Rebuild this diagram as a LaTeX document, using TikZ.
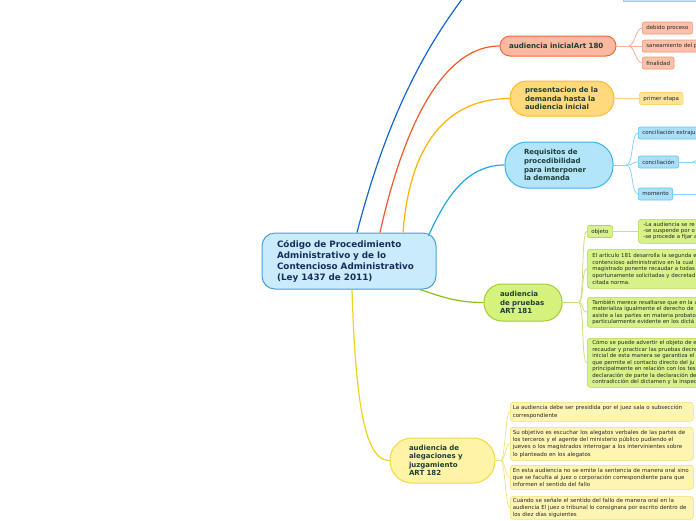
\documentclass[tikz,border=0pt]{standalone}
\usepackage{fontspec}
\setmainfont{DejaVu Sans}
\usetikzlibrary{positioning}
\definecolor{hubfill}{HTML}{C9EBFB}
\definecolor{hubline}{HTML}{4A9FD8}
\definecolor{hubtext}{HTML}{1A2C5C}
\definecolor{topictext}{HTML}{1E3F35}
\definecolor{leaftext}{HTML}{262626}
\definecolor{bluebr}{HTML}{1565D0}
\definecolor{topfill}{HTML}{C8E0F8}
\definecolor{topline}{HTML}{A3C8F2}
\definecolor{redbr}{HTML}{F2592A}
\definecolor{redfill}{HTML}{FBB9A1}
\definecolor{redline}{HTML}{F26A3C}
\definecolor{redleaf}{HTML}{FBC1AB}
\definecolor{redleafline}{HTML}{F6926E}
\definecolor{redtwig}{HTML}{F7B29A}
\definecolor{orabr}{HTML}{FFB100}
\definecolor{orafill}{HTML}{FFD97C}
\definecolor{oraline}{HTML}{FFBC2B}
\definecolor{oraleaf}{HTML}{FFE39A}
\definecolor{oraleafline}{HTML}{FFD466}
\definecolor{oratwig}{HTML}{FFD27A}
\definecolor{cyanbr}{HTML}{1CA9E6}
\definecolor{cyanfill}{HTML}{B2E4FA}
\definecolor{cyanline}{HTML}{3AB3EC}
\definecolor{cyanleaf}{HTML}{A9E0F8}
\definecolor{cyanleafline}{HTML}{5EC4F1}
\definecolor{cyantwig}{HTML}{8CD4F4}
\definecolor{greenbr}{HTML}{8CBD1F}
\definecolor{greenfill}{HTML}{D5F27C}
\definecolor{greenline}{HTML}{A2CD34}
\definecolor{greenleaf}{HTML}{D8F28A}
\definecolor{greenleafline}{HTML}{B4D94F}
\definecolor{greentwig}{HTML}{C6E27C}
\definecolor{yelbr}{HTML}{EED31C}
\definecolor{yelfill}{HTML}{FFF4A6}
\definecolor{yelline}{HTML}{F2D84A}
\definecolor{yelleaf}{HTML}{FFF5B3}
\definecolor{yelleafline}{HTML}{F3DE73}
\definecolor{yeltwig}{HTML}{F3E287}
\begin{document}
\begin{tikzpicture}[x=1pt,y=-1pt,
  hub/.style={draw=hubline,fill=hubfill,line width=1pt,rounded corners=13pt,text=hubtext,
    font=\fontsize{8.8}{11}\selectfont\bfseries,align=left,inner xsep=15pt,inner ysep=0pt,
    text width=144pt,minimum height=56pt},
  topic/.style={line width=1pt,text=topictext,align=left,inner ysep=0pt,
    font=\fontsize{7}{8.6}\selectfont\bfseries},
  leaf/.style={line width=0.6pt,rounded corners=2pt,text=leaftext,font=\fontsize{5.5}{7}\selectfont,
    inner xsep=4pt,inner ysep=0pt,minimum height=12pt,anchor=west},
  note/.style={line width=0.6pt,rounded corners=3pt,text=leaftext,align=left,anchor=north west,
    inner ysep=0pt},
  branch/.style={line width=1.2pt},
  twig/.style={line width=0.8pt}]
\useasboundingbox (0,0) rectangle (696,520);
\clip (0,0) rectangle (696,520);
\node[hub] (hub) at (349,261) {Código de Procedimiento\\Administrativo y de lo\\Contencioso Administrativo\\(Ley 1437 de 2011)};
\node[draw=topline,fill=topfill,line width=1pt,anchor=south west,minimum width=76pt,minimum height=20pt,inner sep=0pt] (upper) at (623,1.5) {};
\coordinate (upbranch) at (495,-40);
\node[topic,draw=redline,fill=redfill,rounded corners=10pt,text width=98pt,inner xsep=9pt,minimum height=20pt,font=\fontsize{7.1}{8.6}\selectfont\bfseries] (inicial) at (558,46) {audiencia inicialArt 180};
\node[topic,draw=oraline,fill=orafill,rounded corners=17pt,text width=74pt,inner xsep=15pt,minimum height=35pt] (demanda) at (562,98.5) {presentacion de la\\demanda hasta la\\audiencia inicial};
\node[topic,draw=cyanline,fill=cyanfill,rounded corners=22pt,text width=70pt,inner xsep=19pt,minimum height=46pt,font=\fontsize{7}{8.8}\selectfont\bfseries] (requisitos) at (559,165) {Requisitos de\\procedibilidad\\para interponer\\la demanda};
\node[topic,draw=greenline,fill=greenfill,rounded corners=18pt,text width=46pt,inner xsep=16pt,minimum height=37pt,font=\fontsize{7}{8.3}\selectfont\bfseries] (pruebas) at (523,302.5) {audiencia\\de pruebas\\ART 181};
\node[topic,draw=yelline,fill=yelfill,rounded corners=22pt,text width=67pt,inner xsep=19pt,minimum height=45pt,font=\fontsize{7}{8.4}\selectfont\bfseries] (alegaciones) at (442.5,460.5) {audiencia de\\alegaciones y\\juzgamiento\\ART 182};

\draw[branch,bluebr] ([xshift=8pt]hub.north) .. controls (385,125) and (425,35) .. (upbranch);
\draw[branch,redbr] ([xshift=31pt]hub.north) .. controls (405,120) and (445,46) .. (inicial.west);
\draw[branch,orabr] ([xshift=54pt]hub.north) .. controls (410,140) and (450,98.5) .. (demanda.west);
\draw[branch,cyanbr] ([xshift=-8pt,yshift=-3pt]hub.north east) .. controls (445,200) and (465,165) .. (requisitos.west);
\draw[branch,greenbr] ([xshift=71pt]hub.south) .. controls (440,296) and (455,302.5) .. (pruebas.west);
\draw[branch,yelbr] ([xshift=3pt]hub.south) .. controls (356,420) and (368,460.5) .. (alegaciones.west);

\node[leaf,draw=redleafline,fill=redleaf] (debido) at (642,28) {debido proceso};
\node[leaf,draw=redleafline,fill=redleaf] (saneamiento) at (642,46) {saneamiento del p};
\node[leaf,draw=redleafline,fill=redleaf] (finalidad) at (642,63) {finalidad};
\draw[twig,redtwig] (inicial.east) -- ++(12,0) coordinate (fi);
\draw[twig,redtwig] (fi) .. controls +(6,0) and +(-6,0) .. (debido.west);
\draw[twig,redtwig] (fi) -- (saneamiento.west);
\draw[twig,redtwig] (fi) .. controls +(6,0) and +(-6,0) .. (finalidad.west);

\node[leaf,draw=oraleafline,fill=oraleaf] (etapa) at (639,98.5) {primer etapa};
\draw[twig,oratwig] (demanda.east) -- (etapa.west);

\node[leaf,draw=cyanleafline,fill=cyanleaf] (extrajudicial) at (638,133) {conciliación extraju};
\node[leaf,draw=cyanleafline,fill=cyanleaf] (conciliacion) at (638,162) {conciliación};
\node[leaf,draw=cyanleafline,fill=cyanleaf] (momento) at (638,194) {momento};
\draw[twig,cyantwig] (requisitos.east) -- ++(13,0) coordinate (fr);
\draw[twig,cyantwig] (fr) .. controls +(7,0) and +(-7,0) .. (extrajudicial.west);
\draw[twig,cyantwig] (fr) .. controls +(7,0) and +(-7,0) .. (conciliacion.west);
\draw[twig,cyantwig] (fr) .. controls +(7,0) and +(-7,0) .. (momento.west);
\coordinate (concup) at (712,140);
\coordinate (concdown) at (712,186);
\coordinate (momright) at (712,194);
\draw[twig,cyantwig] (conciliacion.east) -- ++(14,0) coordinate (fc);
\draw[twig,cyantwig] (fc) .. controls +(8,0) and +(-8,0) .. (concup);
\draw[twig,cyantwig] (fc) .. controls +(8,0) and +(-8,0) .. (concdown);
\draw[twig,cyantwig] (momento.east) -- (momright);

\node[leaf,draw=greenleafline,fill=greenleaf] (objeto) at (587,231.5) {objeto};
\node[note,draw=greenleafline,fill=greenleaf,text width=80pt,inner xsep=5pt,minimum height=24pt,font=\fontsize{5.4}{6.2}\selectfont] (objnote) at (638,219) {-La audiencia se re\\-se suspende por o\\-se procede a fijar a};
\node[note,draw=greenleafline,fill=greenleaf,text width=125pt,inner xsep=5pt,minimum height=39pt,font=\fontsize{5.4}{6.6}\selectfont] (articulo) at (587,249) {El artículo 181 desarrolla la segunda e\\contencioso administrativo en la cual s\\magistrado ponente recaudar a todas\\oportunamente solicitadas y decretad\\citada norma.};
\node[note,draw=greenleafline,fill=greenleaf,text width=125pt,inner xsep=5pt,minimum height=30pt,font=\fontsize{5.4}{6.6}\selectfont] (tambien) at (587,297) {También merece resaltarse que en la a\\materializa igualmente el derecho de\\asiste a las partes en materia probato\\particularmente evidente en los dictá};
\node[note,draw=greenleafline,fill=greenleaf,text width=125pt,inner xsep=5pt,minimum height=49pt,font=\fontsize{5.4}{6.5}\selectfont] (como) at (587,338) {Cómo se puede advertir el objeto de e\\recaudar y practicar las pruebas decre\\inicial de esta manera se garantiza el\\que permite el contacto directo del ju\\principalmente en relación con los tes\\declaración de parte la declaración de\\contradicción del dictamen y la inspec};
\draw[twig,greentwig] (pruebas.east) -- ++(16,0) coordinate (fp);
\draw[twig,greentwig] (fp) .. controls +(6,0) and +(-6,0) .. (objeto.west);
\draw[twig,greentwig] (fp) .. controls +(6,0) and +(-6,0) .. (articulo.west);
\draw[twig,greentwig] (fp) .. controls +(6,0) and +(-6,0) .. (tambien.west);
\draw[twig,greentwig] (fp) .. controls +(6,0) and +(-6,0) .. (como.west);
\draw[twig,greentwig] (objeto.east) -- (objeto.east -| objnote.west);

\node[note,draw=yelleafline,fill=yelleaf,text width=178pt,inner xsep=2.5pt,minimum height=19pt,font=\fontsize{5.5}{7.2}\selectfont] (presidida) at (510,402) {La audiencia debe ser presidida por el juez sala o subsección\\correspondiente};
\node[note,draw=yelleafline,fill=yelleaf,text width=178pt,inner xsep=2.5pt,minimum height=33pt,font=\fontsize{5.5}{7.2}\selectfont] (objetivo) at (510,427) {Su objetivo es escuchar los alegatos verbales de las partes de\\los terceros y el agente del ministerio público pudiendo el\\jueves o los magistrados interrogar a los intervinientes sobre\\lo planteado en los alegatos};
\node[note,draw=yelleafline,fill=yelleaf,text width=178pt,inner xsep=2.5pt,minimum height=24pt,font=\fontsize{5.5}{7.2}\selectfont] (sentencia) at (510,465) {En esta audiencia no se emite la sentencia de manera oral sino\\que se faculta al juez o corporación correspondiente para que\\informen el sentido del fallo};
\node[note,draw=yelleafline,fill=yelleaf,text width=178pt,inner xsep=2.5pt,minimum height=23pt,font=\fontsize{5.5}{7.2}\selectfont] (fallo) at (510,496) {Cuándo se señale el sentido del fallo de manera oral en la\\audiencia El juez o tribunal lo consignara por escrito dentro de\\los diez días siguientes};
\draw[twig,yeltwig] (alegaciones.east) -- ++(5,0) coordinate (fa);
\draw[twig,yeltwig] (fa) .. controls +(5,0) and +(-5,0) .. (presidida.west);
\draw[twig,yeltwig] (fa) .. controls +(5,0) and +(-5,0) .. (objetivo.west);
\draw[twig,yeltwig] (fa) .. controls +(5,0) and +(-5,0) .. (sentencia.west);
\draw[twig,yeltwig] (fa) .. controls +(5,0) and +(-5,0) .. (fallo.west);
\end{tikzpicture}
\end{document}
